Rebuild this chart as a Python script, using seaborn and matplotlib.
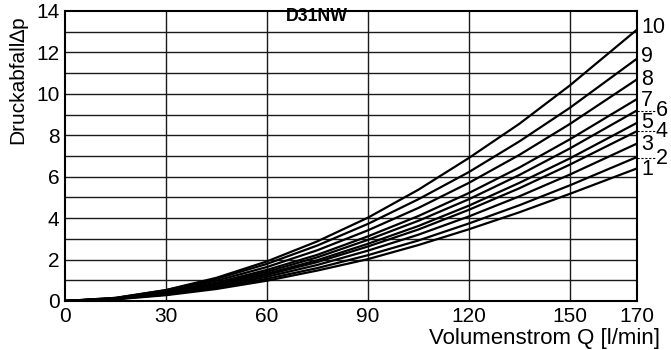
import matplotlib
matplotlib.use("Agg")
import matplotlib.pyplot as plt
import seaborn as sns
import pandas as pd

# Flow Q [l/min]
flow = [0, 15, 30, 45, 60, 75, 90, 105, 120, 135, 150, 170]

# Pressure drop curves, curve labels 1..10
curve_1 = [0, 0.08, 0.28, 0.58, 0.98, 1.47, 2.02, 2.70, 3.46, 4.28, 5.17, 6.40]
curve_2 = [0, 0.09, 0.31, 0.64, 1.07, 1.59, 2.21, 2.92, 3.74, 4.62, 5.58, 6.95]
curve_3 = [0, 0.10, 0.34, 0.69, 1.17, 1.74, 2.43, 3.20, 4.08, 5.05, 6.10, 7.60]
curve_4 = [0, 0.10, 0.36, 0.75, 1.26, 1.88, 2.63, 3.45, 4.40, 5.44, 6.58, 8.20]
curve_5 = [0, 0.11, 0.38, 0.79, 1.32, 1.97, 2.76, 3.62, 4.60, 5.70, 6.88, 8.60]
curve_6 = [0, 0.12, 0.41, 0.84, 1.41, 2.11, 2.95, 3.87, 4.91, 6.08, 7.36, 9.20]
curve_7 = [0, 0.12, 0.43, 0.89, 1.50, 2.23, 3.12, 4.10, 5.21, 6.44, 7.80, 9.75]
curve_8 = [0, 0.13, 0.47, 0.98, 1.64, 2.45, 3.41, 4.49, 5.70, 7.05, 8.54, 10.70]
curve_9 = [0, 0.15, 0.52, 1.07, 1.79, 2.68, 3.72, 4.91, 6.22, 7.70, 9.32, 11.70]
curve_10 = [0, 0.15, 0.53, 1.12, 1.91, 2.88, 4.02, 5.37, 6.90, 8.55, 10.40, 13.10]

curve_labels = ["1", "2", "3", "4", "5", "6", "7", "8", "9", "10"]
curves = [curve_1, curve_2, curve_3, curve_4, curve_5,
          curve_6, curve_7, curve_8, curve_9, curve_10]

# Label positions at the right edge (y in data units)
label_y = [6.37, 6.88, 7.54, 8.19, 8.64, 9.19, 9.70, 10.67, 11.78, 13.18]
label_leader = [False, True, False, True, False, True, False, False, False, False]

x_ticks = [0, 30, 60, 90, 120, 150, 170]
y_ticks = [0, 2, 4, 6, 8, 10, 12, 14]
title = "D31NW"
xlabel = "Volumenstrom Q [l/min]"
ylabel = "Druckabfall\u2206p"

rows = []
for lab, vals in zip(curve_labels, curves):
    for q, p in zip(flow, vals):
        rows.append({"Q": q, "dp": p, "curve": lab})
df = pd.DataFrame(rows)

sns.set_theme(style="white")
plt.rcParams["font.family"] = ["Liberation Sans", "DejaVu Sans"]
plt.rcParams["text.color"] = "black"
plt.rcParams["xtick.color"] = "black"
plt.rcParams["ytick.color"] = "black"

fig = plt.figure(figsize=(6.71, 3.5), dpi=100)
ax = fig.add_axes([0.0969, 0.14, 0.8524, 0.8286])

sns.lineplot(data=df, x="Q", y="dp", hue="curve", hue_order=curve_labels,
             palette=["black"] * len(curve_labels), linewidth=1.6,
             legend=False, ax=ax, zorder=3)

ax.set_xlim(0, 170)
ax.set_ylim(0, 14)
ax.set_xticks(x_ticks)
ax.set_yticks(y_ticks)
ax.grid(False)
for v in [30, 60, 90, 120, 150]:
    ax.axvline(v, color="#1a1a1a", linewidth=1.0, zorder=1)
for h in range(1, 14):
    ax.axhline(h, color="#1a1a1a", linewidth=1.0, zorder=1)

ax.tick_params(axis="both", which="both", length=0, labelsize=15,
               colors="black")
ax.tick_params(axis="x", pad=4)
ax.tick_params(axis="y", pad=4)
for s in ax.spines.values():
    s.set_color("black")
    s.set_linewidth(1.5)

ax.set_xlabel("")
ax.set_ylabel("")
fig.text(0.984, 0.034, xlabel, ha="right", va="center", fontsize=16,
         color="black")
fig.text(0.027, 0.772, ylabel, ha="center", va="center", rotation=90,
         fontsize=15, color="black")

ax.text(75, 13.72, title, ha="center", va="center", fontsize=12.8,
        fontweight="bold", color="black", zorder=4)

for lab, ly, lead in zip(curve_labels, label_y, label_leader):
    if lead:
        ax.plot([170, 175.5], [ly, ly], color="black", linewidth=0.8,
                linestyle=(0, (2, 1.5)), clip_on=False)
        ax.text(175.5, ly, lab, ha="left", va="center", fontsize=15.5,
                color="black", clip_on=False)
    else:
        ax.text(171.3, ly, lab, ha="left", va="center", fontsize=15.5,
                color="black", clip_on=False)

fig.savefig("out.png", dpi=100)
